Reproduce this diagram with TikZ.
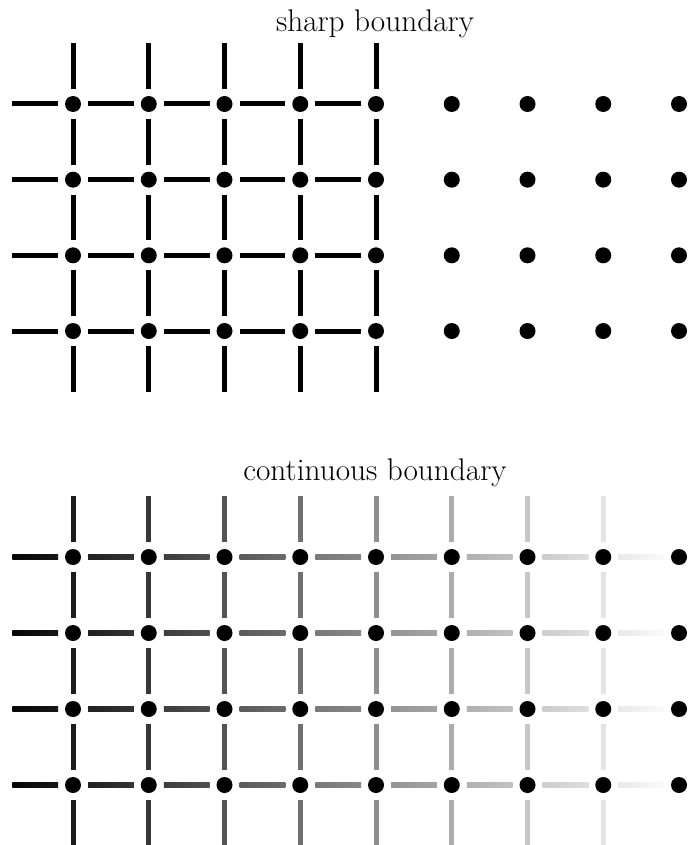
\documentclass[tikz,border=0pt]{standalone}
\usetikzlibrary{calc}
\tikzset{
  dot/.style={circle, fill=black, inner sep=0pt, minimum size=16pt},
  bond/.style={line width=5pt},
  title/.style={font=\fontsize{31.3}{37}\selectfont, anchor=base, inner sep=0pt},
}
\begin{document}
\begin{tikzpicture}[x=1pt,y=-1pt]
\useasboundingbox (0,0) rectangle (688,845);
\node[title] (t1) at (375,32) {sharp boundary};
\node[title] (t2) at (375,480) {continuous boundary};
% dots
\foreach \r in {1,...,4}{
  \foreach \c in {1,...,9}{
    \node[dot] (s-\r-\c) at ({73+75.75*(\c-1)},{104+75.67*(\r-1)}) {};
    \node[dot] (c-\r-\c) at ({73+75.75*(\c-1)},{557+76*(\r-1)}) {};
  }
}
% free ends
\foreach \c in {1,...,9}{
  \coordinate (s-0-\c) at ($(s-1-\c)+(0,-75.67)$);
  \coordinate (s-5-\c) at ($(s-4-\c)+(0,75.67)$);
  \coordinate (c-0-\c) at ($(c-1-\c)+(0,-76)$);
  \coordinate (c-5-\c) at ($(c-4-\c)+(0,76)$);
}
\foreach \r in {1,...,4}{
  \coordinate (s-\r-0) at ($(s-\r-1)+(-75.75,0)$);
  \coordinate (c-\r-0) at ($(c-\r-1)+(-75.75,0)$);
}
% sharp boundary: horizontal
\foreach \r in {1,...,4}{
  \foreach \c in {0,...,4}{
    \pgfmathtruncatemacro\n{\c+1}
    \draw[bond] ($(s-\r-\c)+(15,0)$) -- ($(s-\r-\n)+(-15,0)$);
  }
}
% sharp boundary: vertical
\foreach \c in {1,...,5}{
  \foreach \r in {0,...,4}{
    \pgfmathtruncatemacro\n{\r+1}
    \draw[bond] ($(s-\r-\c)+(0,15)$) -- ($(s-\n-\c)+(0,-15)$);
  }
}
% continuous boundary: horizontal (shaded)
\foreach \r in {1,...,4}{
  \foreach \c in {0,...,8}{
    \pgfmathtruncatemacro\n{\c+1}
    \pgfmathtruncatemacro\pa{round(100*(1-(\c+0.2)/9))}
    \pgfmathtruncatemacro\pb{round(100*(1-(\c+0.8)/9))}
    \shade[left color=black!\pa, right color=black!\pb]
      ($(c-\r-\c)+(15,-2.5)$) rectangle ($(c-\r-\n)+(-15,2.5)$);
  }
}
% continuous boundary: vertical
\foreach \c in {1,...,8}{
  \pgfmathtruncatemacro\pc{round(100*(1-\c/9))}
  \foreach \r in {0,...,4}{
    \pgfmathtruncatemacro\n{\r+1}
    \draw[bond, draw=black!\pc] ($(c-\r-\c)+(0,15)$) -- ($(c-\n-\c)+(0,-15)$);
  }
}
\end{tikzpicture}
\end{document}
